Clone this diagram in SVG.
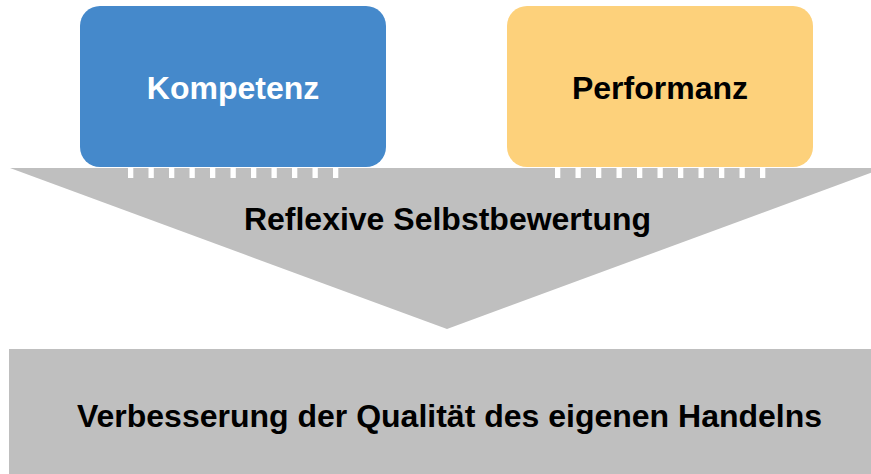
<svg xmlns="http://www.w3.org/2000/svg" width="871" height="474" viewBox="0 0 871 474">
<style>
.lbl{font-family:"Liberation Sans",Arial,sans-serif;font-weight:bold;font-size:32px;text-anchor:middle}
.gray{fill:#BFBFBF}
.dash{stroke:#FFFFFF;stroke-width:10;stroke-dasharray:5.3 15.2;fill:none}
</style>
<rect width="871" height="474" fill="#FFFFFF"/>
<g id="funnel">
<polygon class="gray" points="10,168 884,168 447,329"/>
<text class="lbl" x="447.5" y="230" fill="#000000">Reflexive Selbstbewertung</text>
</g>
<g id="kompetenz">
<rect x="80" y="6" width="306" height="161" rx="20" ry="20" fill="#4589CB"/>
<text class="lbl" x="233" y="98.5" fill="#FFFFFF">Kompetenz</text>
</g>
<g id="performanz">
<rect x="507" y="6" width="306" height="161" rx="20" ry="20" fill="#FDD17B"/>
<text class="lbl" x="660" y="99" fill="#000000">Performanz</text>
</g>
<g id="connectors">
<line class="dash" x1="128" y1="173" x2="339" y2="173"/>
<line class="dash" x1="555" y1="173" x2="766" y2="173"/>
</g>
<g id="ergebnis">
<rect class="gray" x="9" y="349" width="881" height="130"/>
<text class="lbl" x="449.5" y="427" fill="#000000">Verbesserung der Qualität des eigenen Handelns</text>
</g>
</svg>
